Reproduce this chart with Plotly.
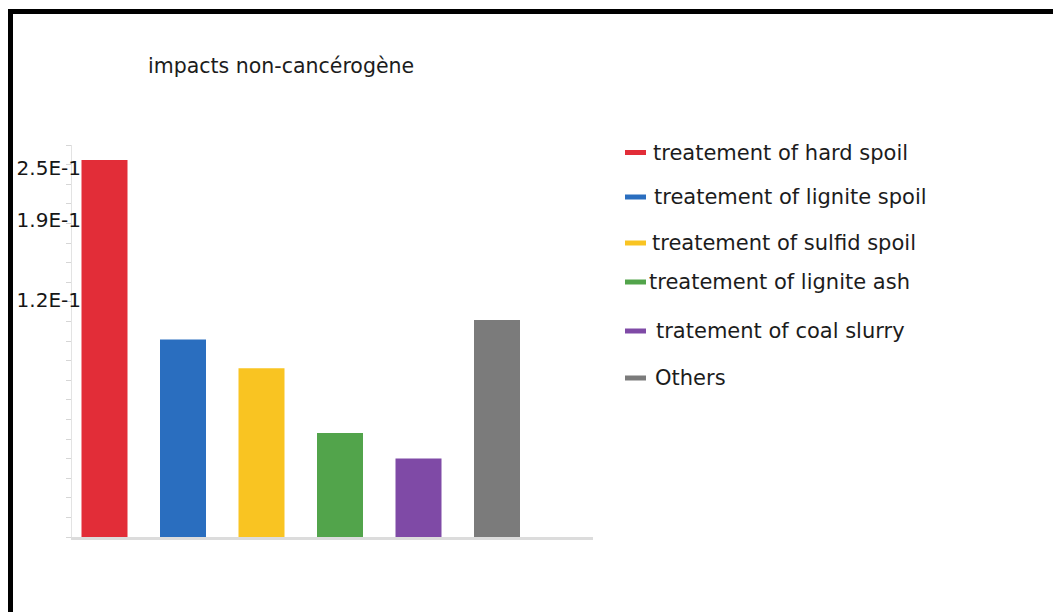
import plotly.graph_objects as go

# Non-carcinogenic impact per treatment stream
categories = [
    "treatement of hard spoil",
    "treatement of lignite spoil",
    "treatement of sulfid spoil",
    "treatement of lignite ash",
    "tratement of coal slurry",
    "Others",
]
impact_values = [0.25, 0.131, 0.112, 0.069, 0.052, 0.144]
bar_colors = ["#e22d38", "#2a6ebf", "#f9c422", "#52a44b", "#7f4aa6", "#7b7b7b"]

tick_values = [0.245, 0.21, 0.157]
tick_labels = ["2.5E-1", "1.9E-1", "1.2E-1"]

W, H = 1053, 612
FONT = "DejaVu Sans"


def px_x(x):
    return x / W


def px_y(y):
    return 1 - y / H


fig = go.Figure(
    go.Bar(
        x=categories,
        y=impact_values,
        marker=dict(color=bar_colors, line=dict(width=0)),
        width=0.586,
        showlegend=False,
        hoverinfo="x+y",
    )
)

# legend rows: y centre of the row, x of the text start
legend_rows = [(152.5, 651), (197, 652), (243, 650), (282, 647), (331, 654), (378, 653)]
shapes = []
annotations = []
for (cy, tx), name, color in zip(legend_rows, categories, bar_colors):
    shapes.append(dict(
        type="rect", xref="paper", yref="paper",
        x0=px_x(625), x1=px_x(646), y0=px_y(cy + 2.5), y1=px_y(cy - 2.5),
        fillcolor=color, line=dict(width=0),
    ))
    annotations.append(dict(
        text=name, xref="paper", yref="paper",
        x=px_x(tx), y=px_y(cy), xanchor="left", yanchor="middle",
        showarrow=False, font=dict(family=FONT, size=21, color="#1c1c1c"),
    ))

annotations.append(dict(
    text="impacts non-cancérogène", xref="paper", yref="paper",
    x=px_x(146), y=px_y(66), xanchor="left", yanchor="middle",
    showarrow=False, font=dict(family=FONT, size=20.5, color="#1c1c1c"),
))

# black frame along the top and left edges
shapes.append(dict(type="line", xref="paper", yref="paper",
                   x0=px_x(8), x1=1.0, y0=px_y(11.5), y1=px_y(11.5),
                   line=dict(color="black", width=5)))
shapes.append(dict(type="line", xref="paper", yref="paper",
                   x0=px_x(10.5), x1=px_x(10.5), y0=px_y(9), y1=0,
                   line=dict(color="black", width=5)))

fig.update_layout(
    width=W, height=H, autosize=False,
    margin=dict(l=0, r=0, t=0, b=0),
    paper_bgcolor="white", plot_bgcolor="white",
    bargap=0.4,
    xaxis=dict(
        domain=[px_x(72), px_x(593)],
        range=[-0.414, 6.223],
        showticklabels=False, ticks="", showgrid=False, zeroline=False,
        showline=True, linecolor="#dcdcdc", linewidth=3,
    ),
    yaxis=dict(
        domain=[px_y(537), px_y(145)],
        range=[0, 0.26],
        tickmode="array", tickvals=tick_values, ticktext=tick_labels,
        ticks="", ticklabelstandoff=-14,
        tickfont=dict(family=FONT, size=20, color="#161616"),
        showgrid=False, zeroline=False,
        showline=True, linecolor="#e3e3e3", linewidth=1,
        minor=dict(ticks="outside", ticklen=5, tickcolor="#d6d6d6", tickwidth=1,
                   tick0=0, dtick=0.013, showgrid=False),
    ),
    shapes=shapes,
    annotations=annotations,
)

fig.write_html("out.html")
